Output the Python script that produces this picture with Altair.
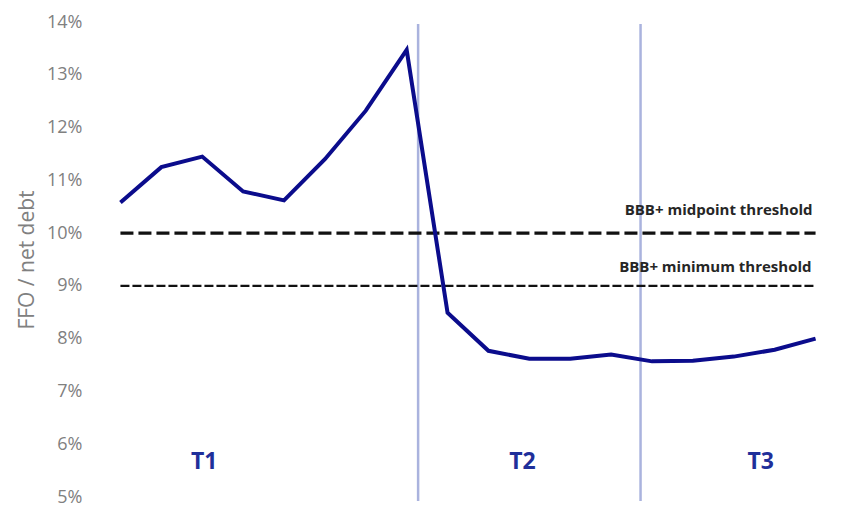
import altair as alt
import pandas as pd

# Data
periods = list(range(18))
ffo_pct = [10.58, 11.25, 11.45, 10.79, 10.62, 11.40, 12.32, 13.47, 8.49, 7.77,
           7.62, 7.62, 7.70, 7.57, 7.58, 7.66, 7.79, 8.00]
threshold_vals = [10.0, 9.0]
threshold_labels = ["BBB+ midpoint threshold", "BBB+ minimum threshold"]
divider_x = [7.28, 12.72]
phase_labels = ["T1", "T2", "T3"]
phase_x = [2.05, 9.83, 15.66]
phase_y = [5.66, 5.66, 5.66]
y_ticks = [5, 6, 7, 8, 9, 10, 11, 12, 13, 14]

FONT = "Open Sans"
NAVY = "#0b0c8c"

line_df = pd.DataFrame({"period": periods, "ffo": [v / 100 for v in ffo_pct]})
thr_df = pd.DataFrame({
    "x0": [periods[0]] * 2,
    "x1": [periods[-1]] * 2,
    "y": [v / 100 for v in threshold_vals],
    "label": threshold_labels,
})
div_df = pd.DataFrame({"x": divider_x})
phase_df = pd.DataFrame({"x": phase_x, "y": [v / 100 for v in phase_y], "label": phase_labels})

xscale = alt.Scale(domain=[-0.5, 17.5], nice=False, zero=False)
yscale = alt.Scale(domain=[0.05, 0.14], nice=False, zero=False)

dividers = alt.Chart(div_df).mark_rule(color="#aab3de", strokeWidth=2.5).encode(
    x=alt.X("x:Q", scale=xscale, axis=None),
    y=alt.value(2),
    y2=alt.value(479),
)

mid_rule = alt.Chart(thr_df.iloc[[0]]).mark_rule(
    color="#111111", strokeWidth=3.2, strokeDash=[13, 5]
).encode(
    x=alt.X("x0:Q", scale=xscale, axis=None),
    x2="x1:Q",
    y=alt.Y("y:Q", scale=yscale),
)
min_rule = alt.Chart(thr_df.iloc[[1]]).mark_rule(
    color="#111111", strokeWidth=2.2, strokeDash=[9, 3]
).encode(
    x=alt.X("x0:Q", scale=xscale, axis=None),
    x2="x1:Q",
    y=alt.Y("y:Q", scale=yscale),
)
mid_text = alt.Chart(thr_df.iloc[[0]]).mark_text(
    align="right", baseline="middle", dx=-3, dy=-23, font=FONT, fontSize=15,
    fontWeight="bold", color="#262626"
).encode(
    x=alt.X("x1:Q", scale=xscale, axis=None),
    y=alt.Y("y:Q", scale=yscale),
    text="label:N",
)
min_text = alt.Chart(thr_df.iloc[[1]]).mark_text(
    align="right", baseline="middle", dx=-4, dy=-19, font=FONT, fontSize=15,
    fontWeight="bold", color="#262626"
).encode(
    x=alt.X("x1:Q", scale=xscale, axis=None),
    y=alt.Y("y:Q", scale=yscale),
    text="label:N",
)

line = alt.Chart(line_df).mark_line(color=NAVY, strokeWidth=4, strokeJoin="miter").encode(
    x=alt.X("period:Q", scale=xscale, axis=None),
    y=alt.Y(
        "ffo:Q",
        scale=yscale,
        title="FFO / net debt",
        axis=alt.Axis(
            values=[v / 100 for v in y_ticks],
            format=".0%",
            grid=False,
            domain=False,
            ticks=False,
            labelPadding=18,
            labelFont=FONT,
            labelFontSize=18,
            labelColor="#808080",
            titleFont=FONT,
            titleFontSize=21,
            titleFontWeight="normal",
            titleColor="#808080",
            titlePadding=9,
        ),
    ),
)

phases = alt.Chart(phase_df).mark_text(
    font=FONT, fontSize=23, fontWeight="bold", color="#1f2f9a", baseline="middle"
).encode(
    x=alt.X("x:Q", scale=xscale, axis=None),
    y=alt.Y("y:Q", scale=yscale),
    text="label:N",
)

chart = alt.layer(dividers, mid_rule, min_rule, mid_text, min_text, line, phases).properties(
    width=736,
    height=475,
    autosize=alt.AutoSizeParams(type="none"),
    padding={"left": 92, "top": 14, "right": 10, "bottom": 12},
).configure(background="white").configure_view(stroke=None)

chart.save("out.html", embed_options={"renderer": "svg", "actions": False})
